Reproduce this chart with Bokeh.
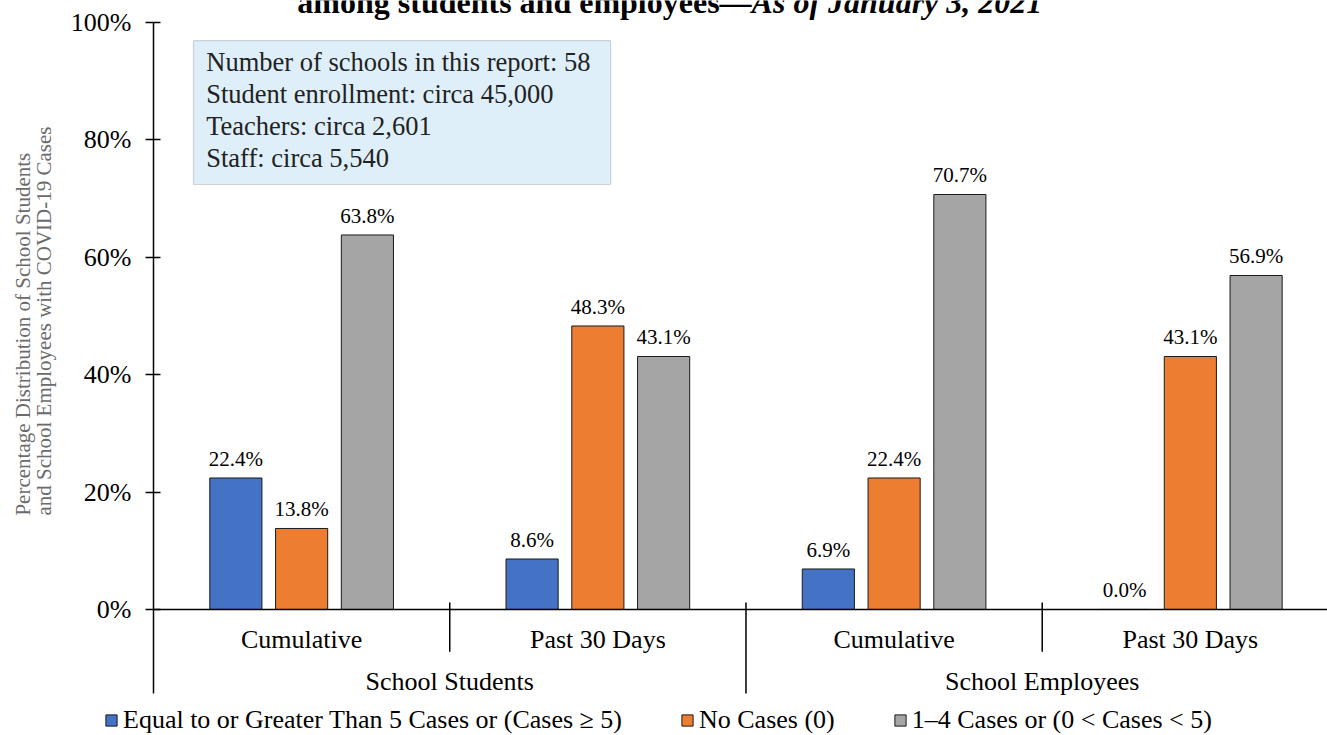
from bokeh.plotting import figure
from bokeh.models import (Range1d, FixedTicker, PrintfTickFormatter, Label,
                          BoxAnnotation, Legend, LegendItem, ColumnDataSource)
from bokeh.core.properties import value
from bokeh.embed import file_html
from bokeh.resources import INLINE

# ---------------- data ----------------
groups = ["School Students", "School Employees"]
periods = ["Cumulative", "Past 30 Days"]
series_names = ["Equal to or Greater Than 5 Cases or (Cases \u2265 5)",
                "No Cases (0)",
                "1\u20134 Cases or (0 < Cases < 5)"]
ge5 = [22.4, 8.6, 6.9, 0.0]
none0 = [13.8, 48.3, 22.4, 43.1]
one_to_four = [63.8, 43.1, 70.7, 56.9]
colors = ["#4472C4", "#ED7D31", "#A5A5A5"]
y_ticks = [0, 20, 40, 60, 80, 100]
info_lines = ["Number of schools in this report: 58",
              "Student enrollment: circa 45,000",
              "Teachers: circa 2,601",
              "Staff: circa 5,540"]
title_main = "among students and employees\u2014"
title_italic = "As of January 3, 2021"
ylabel_lines = ["Percentage Distribution of  School Students",
                "and School Employees with COVID-19 Cases"]

FONT = "Liberation Serif"
Y_MIN_AXIS = -14.31   # bottom of the category-label band

# whole canvas is the frame; the value axis sits at x = 0 (fixed_location)
p = figure(width=1327, height=735, x_range=Range1d(-0.5165, 3.963), y_range=Range1d(-21.47, 103.75),
           output_backend="svg", toolbar_location=None, x_axis_location=None,
           min_border_left=0, min_border_right=0, min_border_top=0, min_border_bottom=0)
p.outline_line_color = None
p.xgrid.visible = False
p.ygrid.visible = False

yaxis = p.yaxis[0]
yaxis.fixed_location = 0
yaxis.ticker = FixedTicker(ticks=y_ticks)
yaxis.formatter = PrintfTickFormatter(format="%d%%")
yaxis.axis_line_color = None
yaxis.major_tick_line_color = "black"
yaxis.major_tick_line_width = 1.5
yaxis.major_tick_in = 7
yaxis.major_tick_out = 8
yaxis.minor_tick_line_color = None
yaxis.major_label_standoff = 14
yaxis.major_label_text_font = FONT
yaxis.major_label_text_font_size = "26px"
yaxis.major_label_text_color = "black"

# vertical axis line (from 100% down to bottom of category band)
p.segment(x0=[0], x1=[0], y0=[Y_MIN_AXIS], y1=[y_ticks[-1]],
          line_color="black", line_width=1.5)

# bars
n = len(periods) * len(groups)
centers = [i + 0.5 for i in range(n)]
offsets = [-0.222, 0.0, 0.222]
bar_w = 0.176
renderers = []
for vals, off, col in zip([ge5, none0, one_to_four], offsets, colors):
    src = ColumnDataSource(dict(x=[c + off for c in centers], top=vals,
                                lab=["%.1f%%" % v for v in vals]))
    r = p.vbar(x="x", top="top", width=bar_w, source=src, fill_color=col,
               line_color="#1a1a1a", line_width=1)
    renderers.append(r)
    p.text(x="x", y="top", text="lab", source=src, text_align="center",
           text_baseline="alphabetic", y_offset=-19, text_font=value(FONT),
           text_font_size="21px", text_color="black")

# category (x) axis line
p.segment(x0=[0], x1=[3.963], y0=[0], y1=[0], line_color="black", line_width=1.5)

# category separators
inner_x = [1, 3]
outer_x = [2]
p.segment(x0=inner_x, x1=inner_x, y0=[1.2] * 2, y1=[-7.2] * 2, line_color="black", line_width=1.5)
p.segment(x0=outer_x, x1=outer_x, y0=[1.2], y1=[Y_MIN_AXIS], line_color="black", line_width=1.5)

# category labels
per_labels = periods * len(groups)
p.text(x=centers, y=[-5.1] * n, text=per_labels, text_align="center", text_baseline="middle",
       text_font=value(FONT), text_font_size="26px", text_color="black")
p.text(x=[1.0, 3.0], y=[-12.2] * 2, text=groups, text_align="center", text_baseline="middle",
       text_font=value(FONT), text_font_size="26px", text_color="black")

# info box
p.add_layout(BoxAnnotation(left=0.135, right=1.543, top=96.93, bottom=72.4,
                           fill_color="#DEEFF9", fill_alpha=1.0,
                           line_color="#7F7F7F", line_width=1.2))
for yy, t in zip([93.2, 87.75, 82.3, 77.0], info_lines):
    p.add_layout(Label(x=0.178, y=yy, text=t, text_align="left", text_baseline="middle",
                       text_font=FONT, text_font_size="26.5px", text_color="#222222"))

# y label (two lines, starting at the same bottom point)
for xx, t in zip([-0.442, -0.368], ylabel_lines):
    p.add_layout(Label(x=xx, y=16.0, text=t, angle=1.5708, text_align="left",
                       text_baseline="middle", text_font=FONT, text_font_size="21px",
                       text_color="#6B6B6B"))

# title (its top clipped by the page edge, as in the source)
p.add_layout(Label(x=2.019, y=103.5, text=title_main, text_align="right",
                   text_baseline="middle", text_font=FONT, text_font_size="32px",
                   text_font_style="bold", text_color="black"))
p.add_layout(Label(x=2.019, y=103.5, text=title_italic, text_align="left",
                   text_baseline="middle", text_font=FONT, text_font_size="32px",
                   text_font_style="bold italic", text_color="black"))

# legend
legend = Legend(items=[LegendItem(label=nm, renderers=[r]) for nm, r in zip(series_names, renderers)],
                orientation="horizontal", location=(104, 0), padding=0, margin=0,
                spacing=58, glyph_width=14, glyph_height=14, label_standoff=5,
                label_text_font=FONT, label_text_font_size="26px", label_text_color="black",
                border_line_color=None, background_fill_alpha=0)
p.add_layout(legend, "center")

open("out.html", "w").write(file_html(p, INLINE))
